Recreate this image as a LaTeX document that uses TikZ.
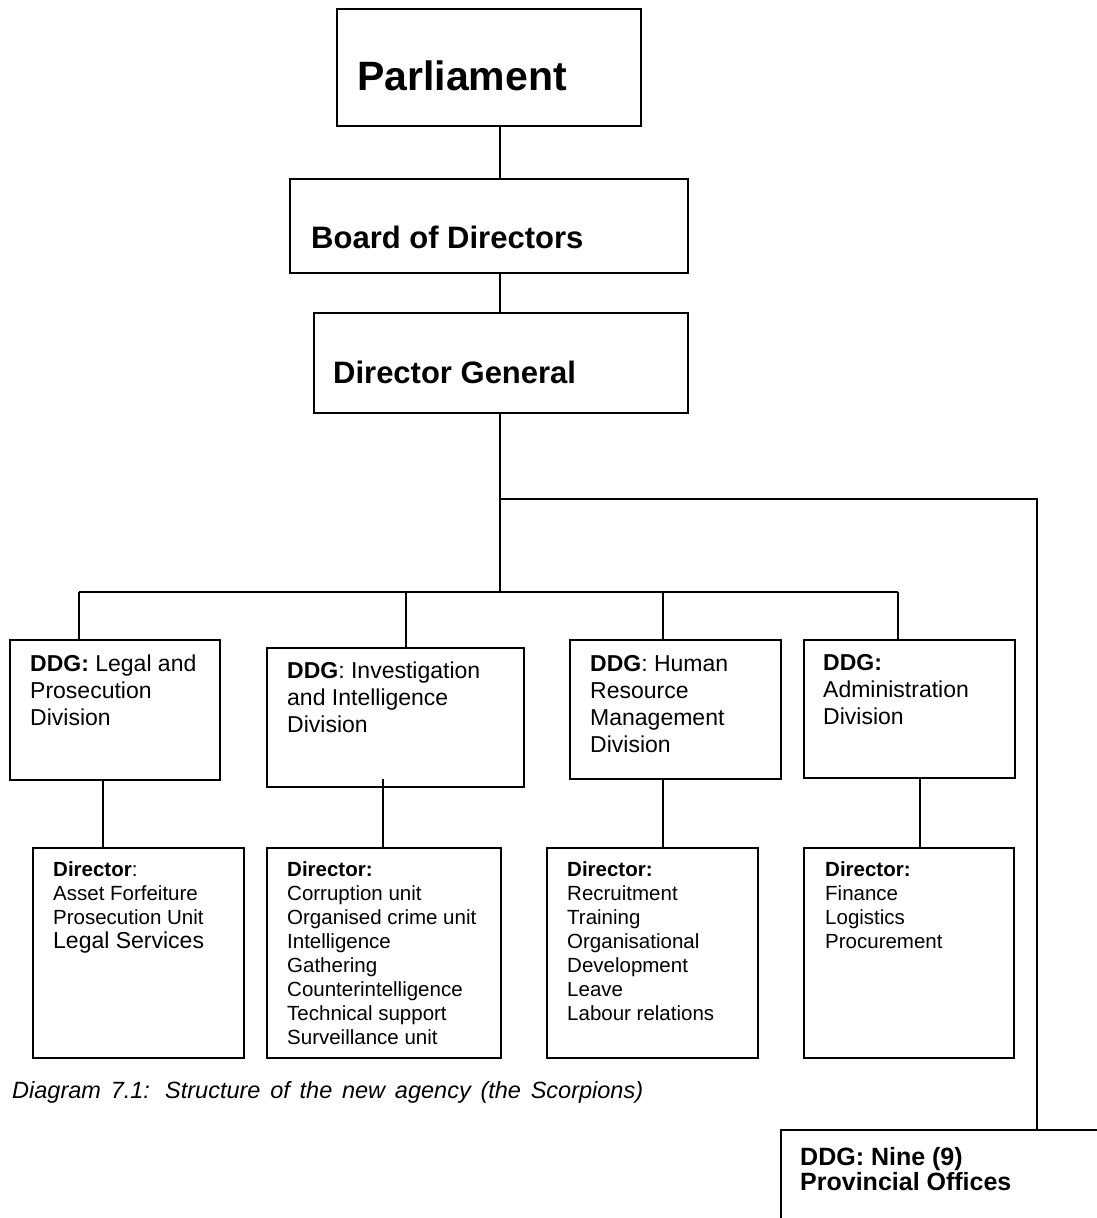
\documentclass[tikz,border=0pt]{standalone}
\usepackage{fontspec}
\setmainfont{Liberation Sans}

\tikzset{
  box/.style={draw, line width=1.7pt, anchor=north west, inner sep=0pt},
  link/.style={line width=1.7pt},
  headtext/.style={anchor=base west, inner sep=0pt, font=\bfseries\fontsize{31}{36}\selectfont},
  divtext/.style={anchor=base west, inner sep=0pt, align=left, font=\fontsize{23}{27}\selectfont},
  dirtext/.style={anchor=base west, inner sep=0pt, align=left, font=\fontsize{20.5}{24}\selectfont},
}

\begin{document}
\begin{tikzpicture}[x=1pt, y=-1pt]
              \useasboundingbox (0,0) rectangle (1097,1218);
              \fill[white] (0,0) rectangle (1097,1218);
              \clip (0,0) rectangle (1097,1218);

              % Caselle
              \node[box, minimum width=304, minimum height=117] (parl) at (336,8) {};
              \node[box, minimum width=398, minimum height=94] (board) at (289,178) {};
              \node[box, minimum width=374, minimum height=100] (dg) at (313,312) {};
              \node[box, minimum width=210, minimum height=140] (legal) at (9,639) {};
              \node[box, minimum width=257, minimum height=139] (invest) at (266,647) {};
              \node[box, minimum width=211, minimum height=139] (hrm) at (569,639) {};
              \node[box, minimum width=211, minimum height=138] (admin) at (803,639) {};
              \node[box, minimum width=211, minimum height=210] (legaldir) at (32,847) {};
              \node[box, minimum width=234, minimum height=210] (investdir) at (266,847) {};
              \node[box, minimum width=211, minimum height=210] (hrmdir) at (546,847) {};
              \node[box, minimum width=210, minimum height=210] (admindir) at (803,847) {};
              \node[box, minimum width=360, minimum height=140] (prov) at (780,1129) {};

              % Testi (ancorati alla base dell'ultima riga)
              \node[headtext, font=\bfseries\fontsize{41}{48}\selectfont] (parltext) at (357,90) {Parliament};
              \node[headtext] (boardtext) at (311,248) {Board of Directors};
              \node[headtext] (dgtext) at (333,383) {Director General};
              \node[divtext] (legaltext) at (30,725) {\textbf{DDG:} Legal and\\Prosecution\\Division};
              \node[divtext] (investtext) at (287,732) {\textbf{DDG}: Investigation\\and Intelligence\\Division};
              \node[divtext] (hrmtext) at (590,752) {\textbf{DDG}: Human\\Resource\\Management\\Division};
              \node[divtext] (admintext) at (823,724) {\textbf{DDG:}\\Administration\\Division};
              \node[dirtext] (legaldirtext) at (53,948) {\textbf{Director}:\\Asset Forfeiture\\Prosecution Unit\\{\fontsize{23}{25}\selectfont Legal Services}};
              \node[dirtext] (investdirtext) at (287,1044) {\textbf{Director:}\\Corruption unit\\Organised crime unit\\Intelligence\\Gathering\\Counterintelligence\\Technical support\\Surveillance unit};
              \node[dirtext] (hrmdirtext) at (567,1020) {\textbf{Director:}\\Recruitment\\Training\\Organisational\\Development\\Leave\\Labour relations};
              \node[dirtext] (admindirtext) at (825,948) {\textbf{Director:}\\Finance\\Logistics\\Procurement};
              \node[divtext, font=\bfseries\fontsize{25}{25}\selectfont] (provtext) at (800,1190) {DDG: Nine (9)\\Provincial Offices};
              \node[anchor=base west, inner sep=0pt, font=\itshape\fontsize{23.5}{26}\selectfont] (caption) at (12,1098)
                {\makebox[631pt][s]{Diagram 7.1: Structure of the new agency (the Scorpions)}};

              % Collegamenti
              \coordinate (fork) at (500,499);
              \coordinate (east) at (1037,499);
              \coordinate (barL) at (79,592);
              \coordinate (barR) at (898,592);
              \coordinate (dInvest) at (406,592);
              \coordinate (dHrm) at (663,592);
              \coordinate (cLegal) at (103,779);
              \coordinate (cInvest) at (383,779);
              \coordinate (cHrm) at (663,779);
              \coordinate (cAdmin) at (920,779);

              \draw[link] (parl.south -| fork) -- (board.north -| fork);
              \draw[link] (board.south -| fork) -- (dg.north -| fork);
              \draw[link] (dg.south -| fork) -- (barL -| fork);
              \draw[link] (fork) -- (east) -- (east |- prov.north);
              \draw[link] (barL) -- (barR);
              \draw[link] (barL) -- (barL |- legal.north);
              \draw[link] (dInvest) -- (dInvest |- invest.north);
              \draw[link] (dHrm) -- (dHrm |- hrm.north);
              \draw[link] (barR) -- (barR |- admin.north);
              \draw[link] (cLegal) -- (cLegal |- legaldir.north);
              \draw[link] (cInvest) -- (cInvest |- investdir.north);
              \draw[link] (cHrm) -- (cHrm |- hrmdir.north);
              \draw[link] (cAdmin) -- (cAdmin |- admindir.north);
\end{tikzpicture}
\end{document}
